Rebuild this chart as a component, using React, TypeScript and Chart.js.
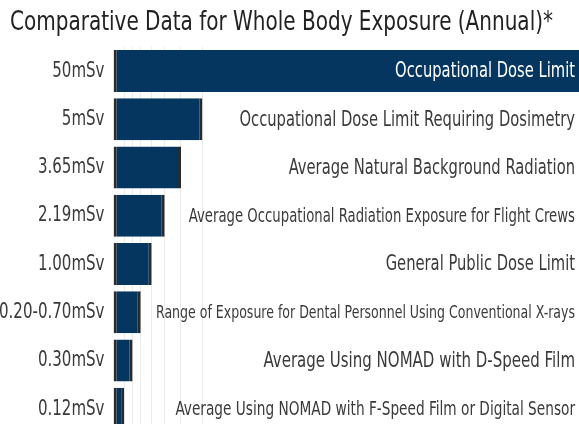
import React, { useEffect, useRef } from "react";
import { Chart, registerables } from "chart.js";

Chart.register(...registerables);

// Dose labels shown on the left axis
const doseLabels = [
  "50mSv",
  "5mSv",
  "3.65mSv",
  "2.19mSv",
  "1.00mSv",
  "0.20-0.70mSv",
  "0.30mSv",
  "0.12mSv",
];

// Descriptions shown at the right of each bar
const descriptions = [
  "Occupational Dose Limit",
  "Occupational Dose Limit Requiring Dosimetry",
  "Average Natural Background Radiation",
  "Average Occupational Radiation Exposure for Flight Crews",
  "General Public Dose Limit",
  "Range of Exposure for Dental Personnel Using Conventional X-rays",
  "Average Using NOMAD with D-Speed Film",
  "Average Using NOMAD with F-Speed Film or Digital Sensor",
];

// Relative bar lengths as drawn in the graphic (0-100 display scale)
const barLengths = [102, 19.1, 14.5, 11.0, 8.2, 5.85, 4.1, 2.3];

const FONT = "'DejaVu Sans Condensed', 'Liberation Sans Narrow', sans-serif";
const descriptionFontSizes = [21, 21, 21, 18.9, 21, 17.9, 21.4, 19.5];
const TEXT_CONDENSE = 0.78;
const TICK_CONDENSE = 0.76;
const TICK_PADDING = 9;
const TITLE_WIDTH = 543;

export default function App() {
  const ref = useRef<HTMLCanvasElement | null>(null);

  useEffect(() => {
    if (!ref.current) return;

    const condensedText = {
      id: "condensedText",
      beforeDraw(chart: any) {
        // title: limit its width so the text is drawn condensed
        const tb = chart.titleBlock;
        if (tb) tb.right = tb.left + TITLE_WIDTH;

        const y = chart.scales.y;
        if (!y || y.__condensed) return;
        const orig = y.drawLabels.bind(y);
        y.drawLabels = function (area: any) {
          const ctx = this.ctx;
          const a = this.right - TICK_PADDING;
          const savedLeft = this.left;
          this.left = -1000; // widen the label clip so long labels run off the canvas edge
          ctx.save();
          ctx.translate(a, 0);
          ctx.scale(TICK_CONDENSE, 1);
          ctx.translate(-a, 0);
          orig(area);
          ctx.restore();
          this.left = savedLeft;
        };
        y.__condensed = true;
      },
    };

    const rightLabels = {
      id: "rightLabels",
      afterDatasetsDraw(chart: any) {
        const { ctx, chartArea } = chart;
        const meta = chart.getDatasetMeta(0);
        const xEnd = chartArea.right - 4;
        meta.data.forEach((bar: any, i: number) => {
          const size = descriptionFontSizes[i];
          ctx.save();
          ctx.font = `${size}px ${FONT}`;
          ctx.textAlign = "right";
          ctx.textBaseline = "middle";
          ctx.fillStyle = bar.x >= xEnd ? "#ffffff" : "#3a3a3a";
          ctx.translate(xEnd, bar.y);
          ctx.scale(TEXT_CONDENSE, 1);
          ctx.fillText(descriptions[i], 0, 1);
          ctx.restore();
        });
      },
    };

    const chart = new Chart(ref.current, {
      type: "bar",
      data: {
        labels: doseLabels,
        datasets: [
          {
            data: barLengths,
            backgroundColor: "#04365f",
            borderColor: "#2a2a2a",
            borderWidth: { left: 3, right: 3, top: 0, bottom: 0 },
            borderSkipped: false,
            categoryPercentage: 1,
            barPercentage: 0.871,
          },
        ],
      },
      options: {
        indexAxis: "y",
        animation: false,
        responsive: false,
        maintainAspectRatio: false,
        layout: { padding: { left: 10, right: 0, top: 0, bottom: 0 } },
        plugins: {
          legend: { display: false },
          tooltip: { enabled: false },
          title: {
            display: true,
            text: "Comparative Data for Whole Body Exposure (Annual)*",
            align: "start",
            color: "#222222",
            font: { family: FONT, size: 27, weight: "normal" },
            padding: { top: 7, bottom: 7.4 },
          },
        },
        scales: {
          x: {
            min: 0,
            max: 100,
            afterBuildTicks: (scale: any) => {
              scale.ticks = barLengths.slice(1).map((v) => ({ value: v }));
            },
            afterFit: (scale: any) => {
              scale.height = 0;
            },
            ticks: { display: false },
            grid: { color: "rgba(0,0,0,0.08)", drawTicks: false },
            border: { display: false },
          },
          y: {
            afterFit: (scale: any) => {
              scale.width = 103.5;
              scale.paddingTop = 0;
              scale.paddingBottom = 0;
            },
            grid: { display: false, drawTicks: false },
            border: { display: false },
            ticks: {
              color: "#3a3a3a",
              padding: TICK_PADDING,
              font: { family: FONT, size: 22 },
            },
          },
        },
      },
      plugins: [condensedText, rightLabels],
    });

    return () => chart.destroy();
  }, []);

  return (
    <div
      style={{
        position: "absolute",
        left: 0,
        top: 0,
        width: 579,
        height: 424,
        overflow: "hidden",
        background: "#ffffff",
      }}
    >
      <canvas ref={ref} width={579} height={433} style={{ width: 579, height: 433, display: "block" }} />
    </div>
  );
}
